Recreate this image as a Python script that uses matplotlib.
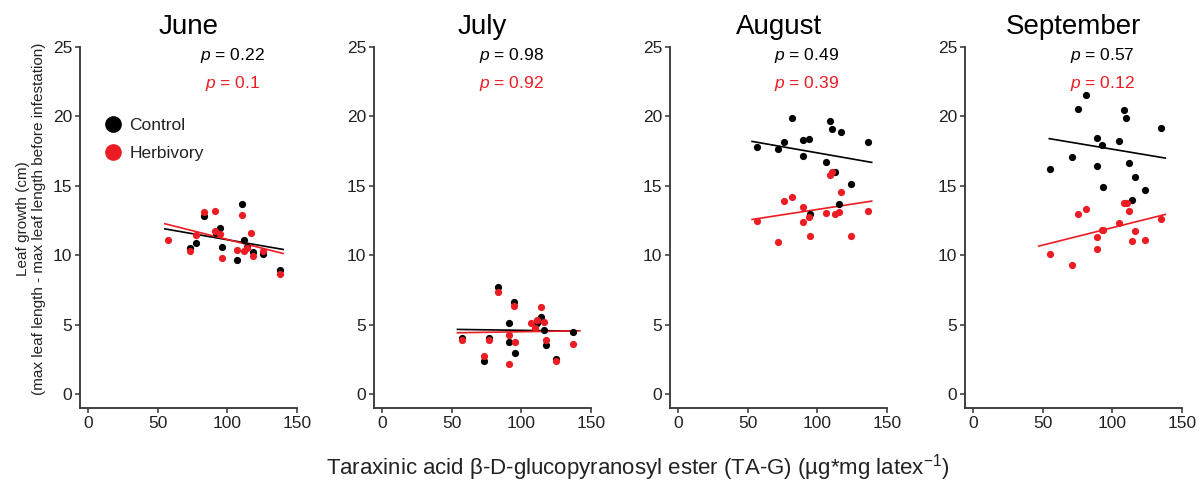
import matplotlib
matplotlib.use("Agg")
import matplotlib.pyplot as plt
from matplotlib.lines import Line2D
import numpy as np

plt.rcParams['font.family'] = ['Liberation Sans', 'DejaVu Sans']
plt.rcParams['mathtext.fontset'] = 'custom'
plt.rcParams['mathtext.rm'] = 'Liberation Sans'
plt.rcParams['mathtext.it'] = 'Liberation Sans:italic'

months = ["June", "July", "August", "September"]
p_control = ["0.22", "0.98", "0.49", "0.57"]
p_herbivory = ["0.1", "0.92", "0.39", "0.12"]

# TA-G (x) and leaf growth (y)
june_ctrl_x = [110.6, 83.3, 94.8, 91.5, 77.1, 73.0, 96.0, 112.0, 118.5, 125.4, 107.2, 137.6, 114.4]
june_ctrl_y = [13.7, 12.8, 11.96, 11.6, 10.88, 10.5, 10.57, 11.1, 10.25, 10.09, 9.63, 8.93, 10.6]
june_herb_x = [57.2, 73.0, 77.1, 83.3, 91.2, 91.0, 94.8, 96.0, 110.6, 116.8, 107.2, 112.0, 114.4, 118.5, 125.4, 137.6]
june_herb_y = [11.07, 10.3, 11.45, 13.09, 13.2, 11.77, 11.5, 9.82, 12.92, 11.58, 10.37, 10.3, 10.54, 9.94, 10.3, 8.65]

july_ctrl_x = [82.8, 94.3, 90.7, 57.1, 76.9, 90.7, 95.5, 72.8, 113.9, 111.5, 116.2, 117.9, 125.0, 137.0]
july_ctrl_y = [7.69, 6.6, 5.12, 4.03, 4.05, 3.72, 2.93, 2.4, 5.55, 5.09, 4.59, 3.53, 2.5, 4.49]
july_herb_x = [82.8, 94.3, 113.9, 106.9, 111.5, 116.2, 109.8, 90.7, 57.1, 76.9, 95.5, 117.9, 137.0, 72.8, 125.0, 90.7]
july_herb_y = [7.37, 6.36, 6.27, 5.14, 5.33, 5.16, 4.78, 4.25, 3.89, 3.87, 3.72, 3.91, 3.6, 2.71, 2.4, 2.14]

aug_ctrl_x = [56.2, 71.7, 76.0, 82.0, 89.9, 93.7, 89.9, 106.0, 109.0, 110.6, 117.0, 112.7, 124.0, 115.4, 94.9, 136.3]
aug_ctrl_y = [17.77, 17.63, 18.13, 19.9, 18.28, 18.35, 17.12, 16.69, 19.67, 19.09, 18.85, 16.02, 15.1, 13.67, 12.97, 18.16]
aug_herb_x = [56.2, 71.7, 76.0, 82.0, 89.9, 89.9, 93.7, 94.6, 106.0, 109.0, 110.6, 112.9, 115.4, 117.0, 124.0, 136.3]
aug_herb_y = [12.46, 10.95, 13.93, 14.22, 13.45, 12.41, 12.78, 11.41, 13.04, 15.75, 15.97, 13.0, 13.14, 14.55, 11.38, 13.18]

sep_ctrl_x = [81.0, 74.9, 108.0, 109.7, 135.2, 88.9, 92.5, 104.9, 70.8, 55.1, 89.2, 112.1, 116.4, 93.5, 123.3, 114.4]
sep_ctrl_y = [21.57, 20.51, 20.44, 19.88, 19.19, 18.44, 17.96, 18.23, 17.07, 16.21, 16.4, 16.62, 15.61, 14.89, 14.7, 14.0]
sep_herb_x = [55.1, 70.8, 74.9, 81.0, 88.9, 88.9, 92.5, 93.5, 104.9, 108.0, 110.2, 112.1, 116.4, 114.4, 123.3, 135.2]
sep_herb_y = [10.06, 9.32, 12.99, 13.3, 11.31, 10.45, 11.84, 11.8, 12.32, 13.78, 13.8, 13.21, 11.74, 11.0, 11.1, 12.61]

# regression lines as drawn (x span, y at ends)
ctrl_fit_x = [[55, 140], [54, 137], [53, 139], [54.6, 138]]
ctrl_fit_y = [[11.9, 10.42], [4.66, 4.54], [18.2, 16.69], [18.4, 17.0]]
herb_fit_x = [[55, 140], [54, 142], [53, 139], [47, 138]]
herb_fit_y = [[12.27, 10.13], [4.42, 4.56], [12.58, 13.9], [10.66, 12.94]]

ctrl_x = [june_ctrl_x, july_ctrl_x, aug_ctrl_x, sep_ctrl_x]
ctrl_y = [june_ctrl_y, july_ctrl_y, aug_ctrl_y, sep_ctrl_y]
herb_x = [june_herb_x, july_herb_x, aug_herb_x, sep_herb_x]
herb_y = [june_herb_y, july_herb_y, aug_herb_y, sep_herb_y]

black = "#000000"
red = "#ec1c24"
p_x = [103.5, 92.5, 92.5, 92.5]

fig = plt.figure(figsize=(12.01, 4.83), dpi=100)
W, H = 1201, 483
lefts = [80, 374, 670, 965]

for i, month in enumerate(months):
    ax = fig.add_axes([lefts[i] / W, 75 / H, 217 / W, 361 / H])

    ax.plot(ctrl_fit_x[i], ctrl_fit_y[i], color=black, lw=1.2, zorder=2)
    ax.plot(herb_fit_x[i], herb_fit_y[i], color=red, lw=1.2, zorder=2)
    ax.scatter(ctrl_x[i], ctrl_y[i], s=27, color=black, lw=0, zorder=3)
    ax.scatter(herb_x[i], herb_y[i], s=27, color=red, lw=0, zorder=4)

    ax.set_xlim(-6, 150)
    ax.set_ylim(-1, 25)
    ax.set_xticks([0, 50, 100, 150])
    ax.set_yticks([0, 5, 10, 15, 20, 25])
    for s in ["top", "right"]:
        ax.spines[s].set_visible(False)
    for s in ["left", "bottom"]:
        ax.spines[s].set_linewidth(1.3)
        ax.spines[s].set_color("#333333")
    ax.tick_params(length=3.5, width=1.1, color="#333333", labelsize=12.5,
                   labelcolor="#222222", pad=2)

    ax.set_title(month, fontsize=20, pad=9)
    ax.text(p_x[i], 24.4, r"$\mathit{p}$ = " + p_control[i], color=black, fontsize=12.5,
            ha="center", va="center")
    ax.text(p_x[i], 22.4, r"$\mathit{p}$ = " + p_herbivory[i], color=red, fontsize=12.5,
            ha="center", va="center")

    if i == 0:
        handles = [Line2D([], [], marker="o", ls="", color=black, markersize=11),
                   Line2D([], [], marker="o", ls="", color=red, markersize=11)]
        ax.legend(handles, ["Control", "Herbivory"], frameon=False, loc="upper left",
                  bbox_to_anchor=(0.113, 0.803), borderpad=0, borderaxespad=0,
                  handlelength=1.0, handletextpad=0.42, labelspacing=0.74,
                  fontsize=12.5, labelcolor="#222222")

fig.text(0.026, 0.548,
         "Leaf growth (cm)\n(max leaf length - max leaf length before infestation)",
         rotation=90, ha="center", va="center", multialignment="center",
         fontsize=11, color="#222222")
fig.text(0.531, 0.033,
         r"Taraxinic acid β-D-glucopyranosyl ester (TA-G) (µg*mg latex$^{\mathregular{-1}}$)",
         ha="center", va="center", fontsize=16, color="#222222")

fig.savefig("out.png", dpi=100)
